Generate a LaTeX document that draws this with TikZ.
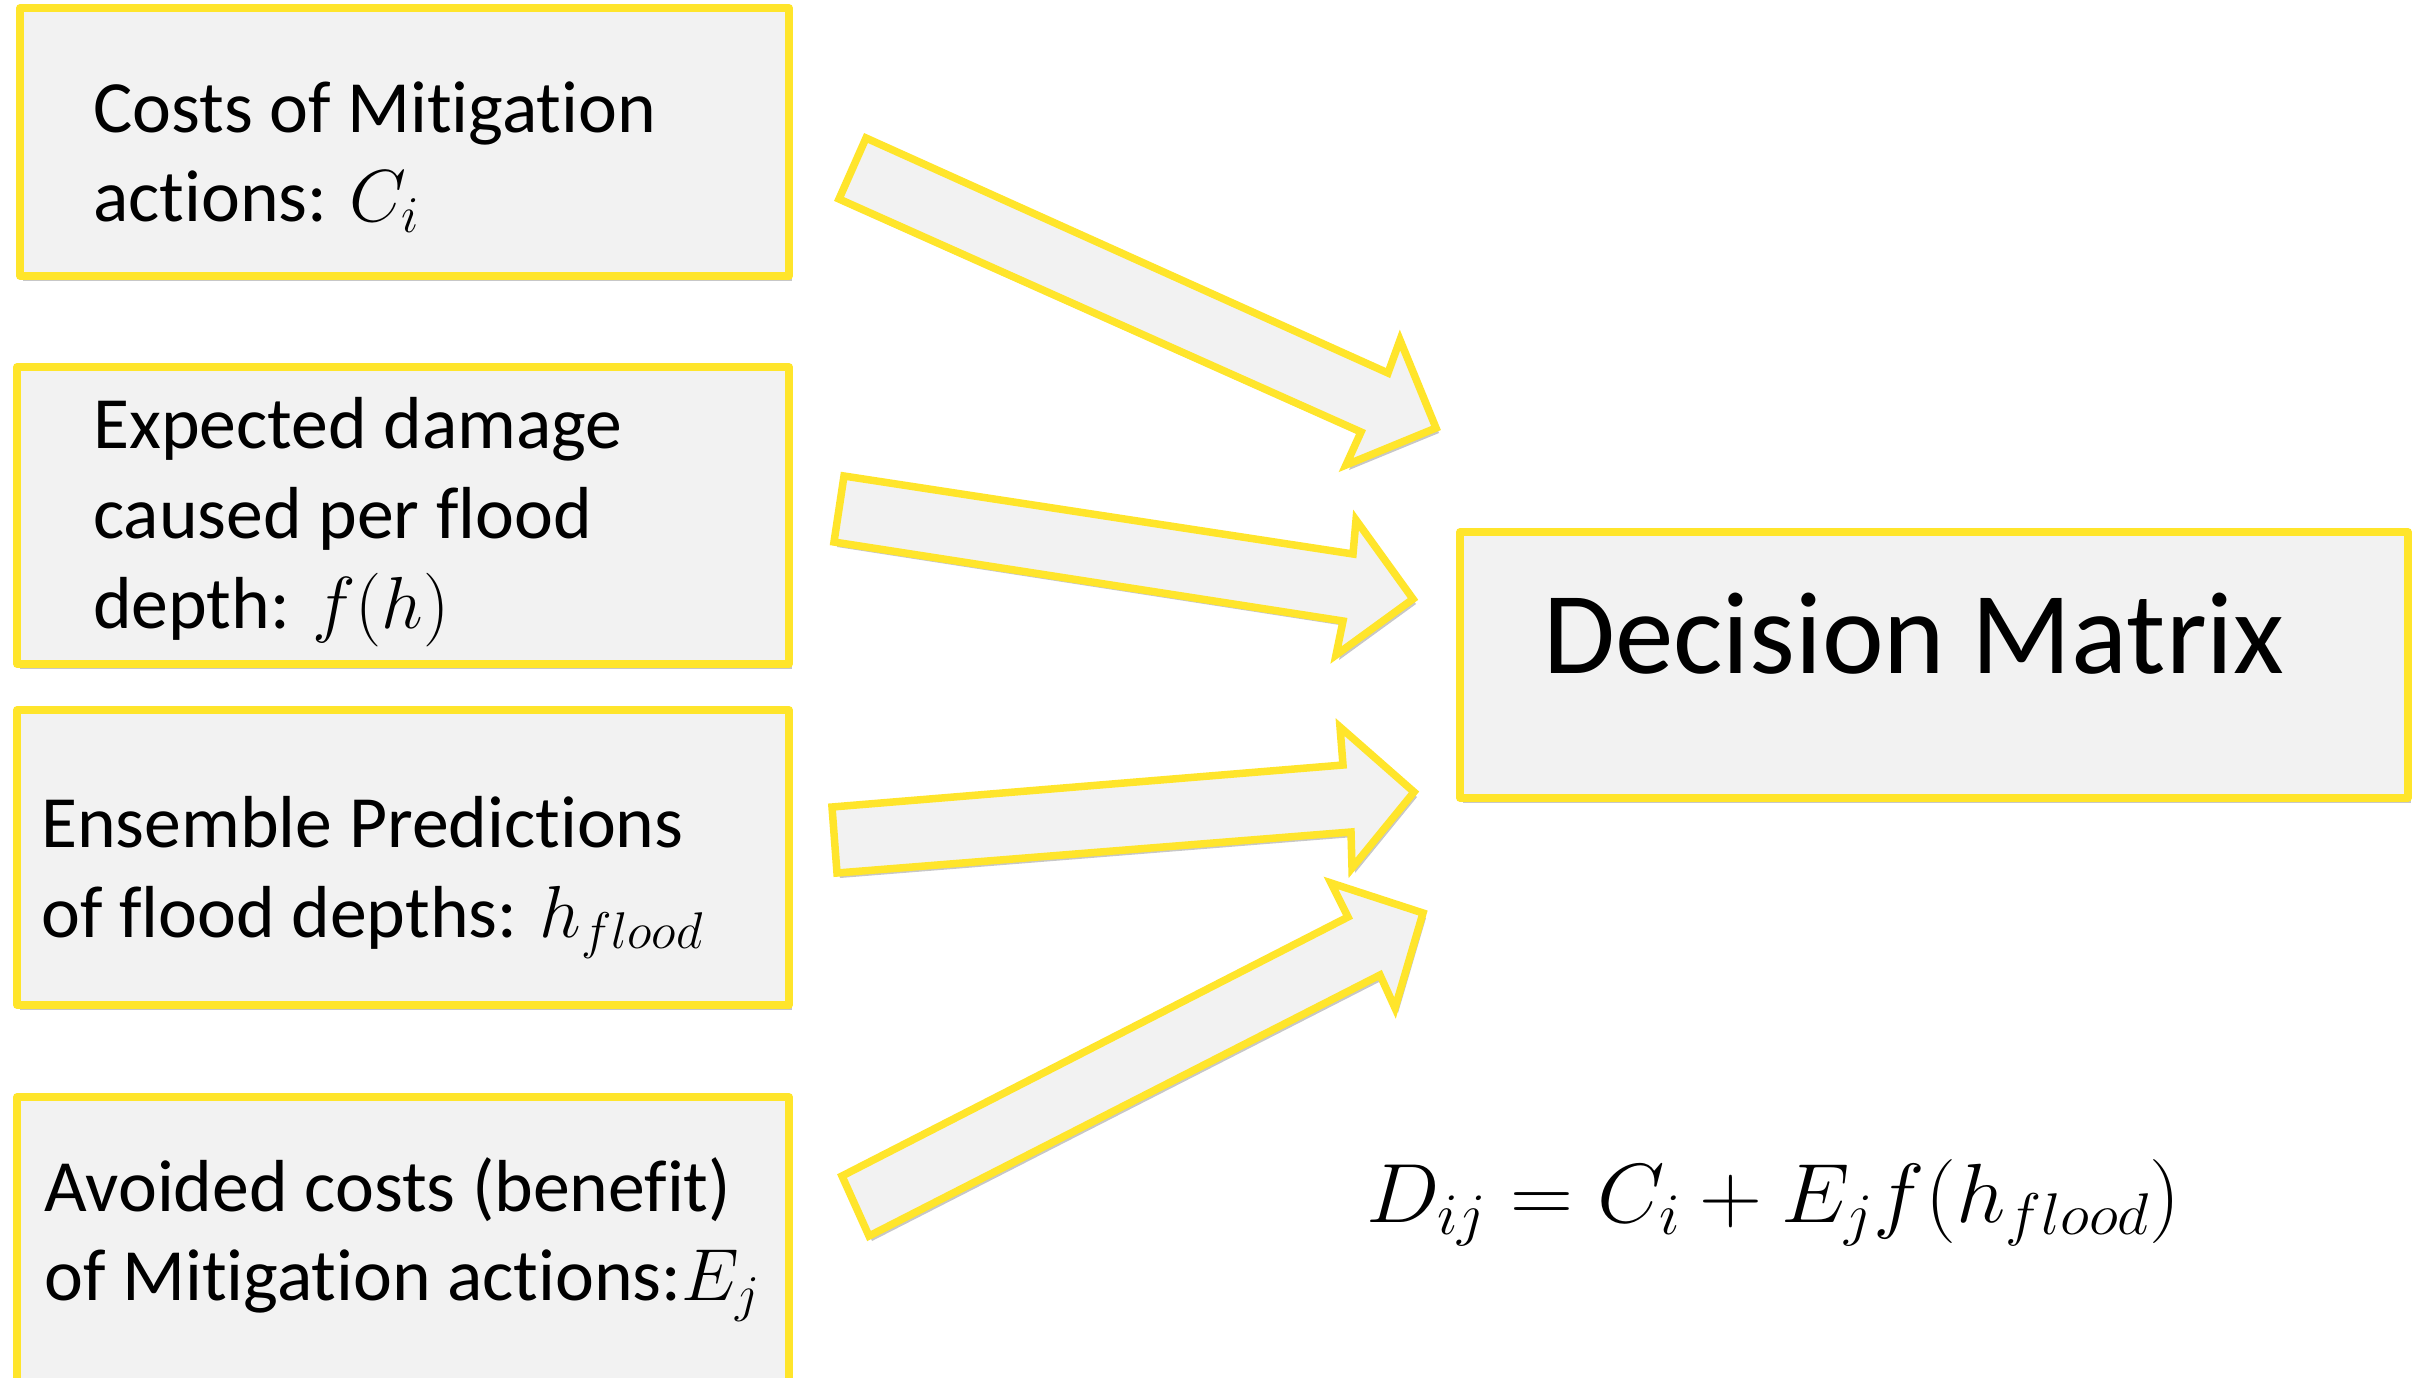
\RequirePackage{fix-cm}
\documentclass[tikz,border=0pt]{standalone}
\usepackage{graphicx}
\usepackage[no-math]{fontspec}
\setmainfont{Carlito}[Ligatures={NoCommon,NoRequired,NoContextual},RawFeature={-liga;-clig;-calt;-dlig;-rlig}]
\usetikzlibrary{shadows}
\definecolor{yel}{RGB}{255,229,43}
\definecolor{boxfill}{RGB}{242,242,242}
\tikzset{
  shad/.style={drop shadow={shadow xshift=3pt,shadow yshift=-5pt,fill=black,opacity=0.22}},
  infobox/.style={draw=yel,fill=boxfill,line width=7.5pt,line join=round,shad,inner sep=0pt},
  blockarrow/.style={draw=yel,fill=boxfill,line width=7.5pt,line join=miter,shad},
  txt/.style={anchor=base west,inner sep=0pt,font=\fontsize{73.7}{90}\selectfont},
  bigtxt/.style={anchor=base west,inner sep=0pt,font=\fontsize{117}{140}\selectfont},
  eqtxt/.style={anchor=base west,inner sep=0pt,font=\fontsize{84}{100}\selectfont}
}
\begin{document}
\begin{tikzpicture}[x=1pt,y=-1pt]
\useasboundingbox (0,0) rectangle (2420,1377);
\clip (0,0) rectangle (2420,1377);
\fill[white] (0,0) rectangle (2420,1377);
% boxes
\node[infobox,minimum width=769pt,minimum height=268pt] (b1) at (404.5,142) {};
\node[infobox,minimum width=772pt,minimum height=297pt] (b2) at (403,515.5) {};
\node[infobox,minimum width=772pt,minimum height=295pt] (b3) at (403,857.5) {};
\node[infobox,minimum width=772pt,minimum height=323pt] (b4) at (403,1258.5) {};
\node[infobox,minimum width=948pt,minimum height=266pt] (dm) at (1934,665) {};
% box texts
\node[txt] (t11) at (93,132) {Costs of Mitigation};
\node[txt] (t12) at (93,221) {actions: $C_i$};
\node[txt] (t21) at (93,448) {Expected damage};
\node[txt] (t22) at (93,538) {caused per flood};
\node[txt] (t23) at (93,628) {depth: $f(h)$};
\node[txt] (t31) at (41,847) {Ensemble Predictions};
\node[txt] (t32) at (41,937) {of flood depths: $h_{flood}$};
\node[txt] (t41) at (44,1211) {Avoided costs (benefit)};
\node[txt] (t42) at (44,1300) {of Mitigation actions:$E_j$};
\node[bigtxt] (tdm) at (1543,673) {Decision Matrix};
% block arrows
\draw[blockarrow] (866,138) -- (1388,373) -- (1400,340) -- (1436,428) -- (1346,465) -- (1361,432) -- (839,199) -- cycle;
\draw[blockarrow] (844,476) -- (1353,554) -- (1356,520) -- (1413,599) -- (1336,655) -- (1343,621) -- (834,542) -- cycle;
\draw[blockarrow] (832,807) -- (1343,765) -- (1340,727) -- (1414,792) -- (1352,868) -- (1351,832) -- (837,873) -- cycle;
\draw[blockarrow] (842,1176) -- (1348,917) -- (1331,883) -- (1423,913) -- (1395,1008) -- (1380,975) -- (869,1236) -- cycle;
% formula
\node[eqtxt] (eq) at (1366,1222) {\scalebox{1.04}[1]{$D_{ij} = C_i + E_j f(h_{flood})$}};
\end{tikzpicture}
\end{document}
